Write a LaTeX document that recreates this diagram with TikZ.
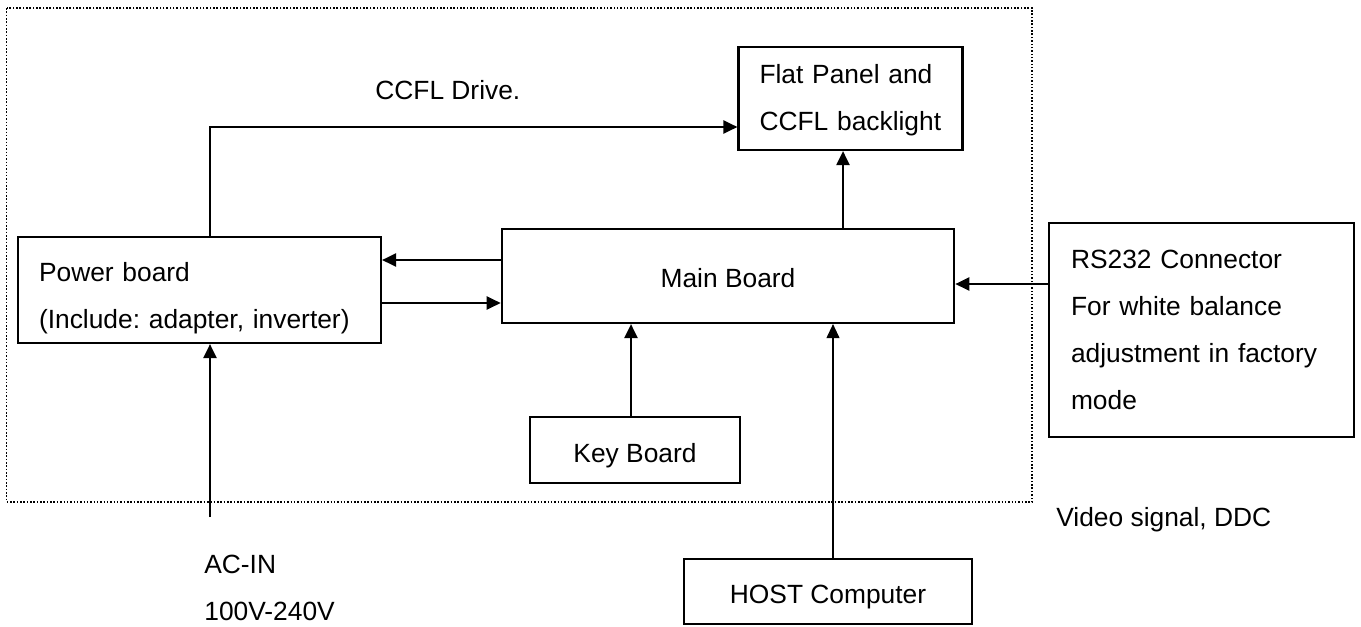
\documentclass[tikz,border=0pt]{standalone}
\usepackage{fontspec}
\setmainfont{Liberation Sans}
\usetikzlibrary{arrows.meta,positioning}

\tikzset{
  blk/.style={draw, line width=1.25pt, inner ysep=0pt, text depth=0pt},
  txtblk/.style={blk, align=left, inner xsep=0.42cm, text height=0.4cm},
  arr/.style={line width=1.25pt, -{Triangle[length=0.28cm,width=0.26cm]}},
  lbl/.style={inner sep=0pt, anchor=base west}
}

\begin{document}
\frenchspacing
\begin{tikzpicture}[x=0.02cm, y=-0.02cm, font=\fontsize{15}{26.8}\selectfont]
\useasboundingbox (0,0) rectangle (1361,626);

% frame round the monitor
\draw[line width=0.9pt, densely dotted] (6.7,8) rectangle (1032,502);

% boards
\node[txtblk, text width=3.64cm, minimum height=2.06cm, text depth=1.02cm] (flat) at (850.5,98.5) {Flat Panel and\\CCFL backlight};
\node[txtblk, text width=6.42cm, minimum height=2.12cm, text depth=0.76cm] (power) at (199.5,290) {Power board\\(Include: adapter, inverter)};
\node[blk, minimum width=9.05cm, minimum height=1.88cm, text height=0.44cm] (main) at (728,276) {Main Board};
\node[txtblk, text width=5.22cm, minimum height=4.28cm, inner xsep=0.44cm, text depth=2.88cm] (rs) at (1201.5,330) {RS232 Connector\\For white balance\\adjustment in factory\\mode};
\node[blk, minimum width=4.19cm, minimum height=1.32cm, text height=0.48cm] (key) at (635,450) {Key Board};
\node[blk, minimum width=5.76cm, minimum height=1.3cm, text height=0.46cm] (host) at (828,591.5) {HOST Computer};

% free ends
\coordinate (drive) at (210,127);
\coordinate (acin) at (210,517);

% texts
\node[lbl] (drivetxt) at (375,99) {CCFL Drive.};
\node[lbl] (actxt) at (204,573) {AC-IN};
\node[lbl] (volttxt) at (204,620) {100V-240V};
\node[lbl] (videotxt) at (1056,526) {Video signal, DDC};

% connectors
\draw[arr] (power.north -| drive) -- (drive) -- (drive -| flat.west);
\draw[arr] (acin) -- (acin |- power.south);
\draw[arr] ([yshift=0.32cm]main.west) -- ([yshift=0.32cm]main.west -| power.east);
\draw[arr] ([yshift=-0.54cm]main.west -| power.east) -- ([yshift=-0.54cm]main.west);
\draw[arr] ([xshift=-0.15cm]flat.south |- main.north) -- ([xshift=-0.15cm]flat.south);
\draw[arr] ([yshift=0.92cm]rs.west) -- ([yshift=0.92cm]rs.west -| main.east);
\draw[arr] ([xshift=-0.08cm]key.north) -- ([xshift=-0.08cm]key.north |- main.south);
\draw[arr, line width=0.6pt] ([xshift=0.1cm]host.north) -- ([xshift=0.1cm]host.north |- main.south);

\end{tikzpicture}
\end{document}
